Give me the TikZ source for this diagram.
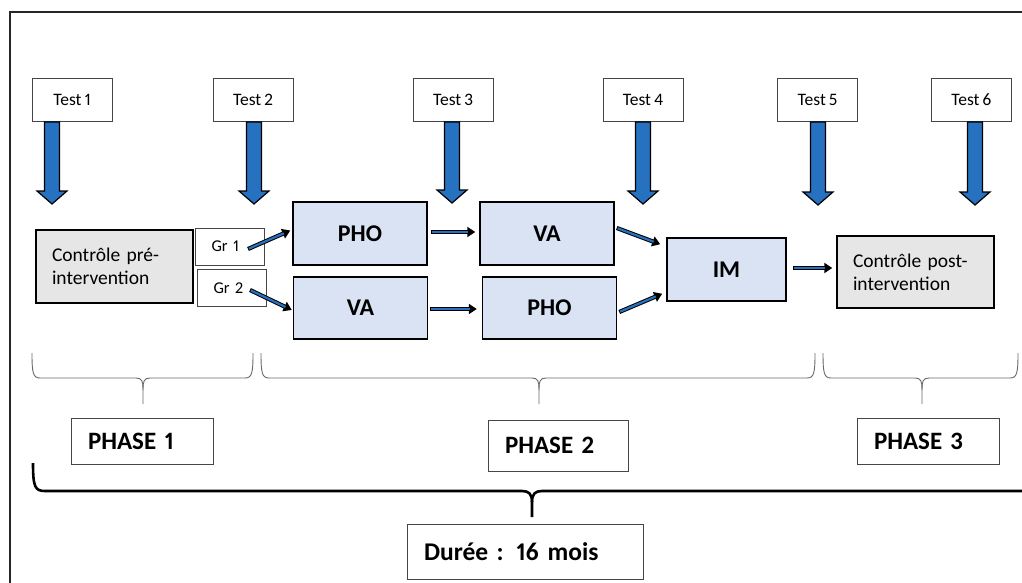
\documentclass[tikz,border=0pt]{standalone}
\usepackage{fontspec}
\setmainfont{Carlito}[Numbers=Proportional,WordSpace=0.75]
\usetikzlibrary{arrows.meta,calc}
\definecolor{arrblue}{RGB}{38,113,192}
\definecolor{boxblue}{RGB}{218,227,243}
\definecolor{boxgray}{RGB}{230,230,230}
\definecolor{lgray}{RGB}{70,70,70}
\definecolor{brgray}{RGB}{105,105,105}
\newcommand\phbrace[3]{%
\draw[phbr] (#1,353) .. controls (#1,373) and (#1+1,378) .. (#1+8,378) -- (#3-7,378) .. controls (#3-1,378) and (#3,381) .. (#3,390) -- (#3,404);
\draw[phbr] (#2,353) .. controls (#2,373) and (#2-1,378) .. (#2-8,378) -- (#3+7,378) .. controls (#3+1,378) and (#3,381) .. (#3,390);}
\newcommand\testarrow[2]{%
\draw[tarrow] ($(#1)+(-7.5,0)$) -- ($(#2)+(-7.5,-13)$) -- ($(#2)+(-15,-13)$) -- (#2) -- ($(#2)+(15,-13)$) -- ($(#2)+(7.5,-13)$) -- ($(#1)+(7.5,0)$) -- cycle;}
\begin{document}
\begin{tikzpicture}[x=1pt,y=-1pt,
 testbox/.style={draw=lgray, line width=1pt, fill=white, minimum width=80pt, minimum height=43pt, inner sep=0pt, font=\fontsize{17.5}{20}\selectfont},
 ctrlbox/.style={draw=black, line width=1.5pt, fill=boxgray, text width=125pt, inner xsep=16pt, align=left, font=\fontsize{19.5}{23}\selectfont},
 grbox/.style={draw=lgray, line width=1pt, fill=white, minimum height=37pt, text width=37pt, inner xsep=16pt, align=left, font=\fontsize{16.5}{19}\selectfont},
 bluebox/.style={draw=black, line width=1.5pt, fill=boxblue, minimum width=134pt, minimum height=63pt, inner sep=0pt, font=\bfseries\fontsize{24}{28}\selectfont},
 phasebox/.style={draw=lgray, line width=1pt, fill=white, minimum height=46pt, inner xsep=17pt, align=left, font=\bfseries\fontsize{25}{28}\selectfont},
 tarrow/.style={draw=black, line width=1.2pt, fill=arrblue, line join=miter},
 conn/.style={draw=black, line width=4.2pt, -{Triangle[length=8pt,width=10pt]}, postaction={draw=arrblue, line width=2.2pt, -, shorten >=7pt, shorten <=1pt}},
 phbr/.style={draw=brgray, line width=0.9pt},
 bigbr/.style={draw=black, line width=2.6pt},
 frame/.style={draw=black!85, line width=1.5pt}]
\useasboundingbox (0,0) rectangle (1022,583);
\fill[white] (0,0) rectangle (1022,583);
\draw[frame] (10,590) -- (10,12) -- (1030,12);

% test boxes
\node[testbox] (t1) at (72,100) {Test 1};
\node[testbox] (t2) at (253,100) {Test 2};
\node[testbox] (t3) at (453,100) {Test 3};
\node[testbox] (t4) at (643,100) {Test 4};
\node[testbox] (t5) at (817.5,100) {Test 5};
\node[testbox] (t6) at (971.5,100) {Test 6};

\coordinate (a1) at ([xshift=-20pt]t1.south);
\coordinate (b1) at ($(a1)+(0,82)$);
\coordinate (a2) at ([xshift=1pt]t2.south);
\coordinate (b2) at ($(a2)+(0,82)$);
\coordinate (a3) at ([xshift=-1pt]t3.south);
\coordinate (b3) at ($(a3)+(0,81)$);
\coordinate (a4) at (t4.south);
\coordinate (b4) at ($(a4)+(0,82)$);
\coordinate (a5) at ([xshift=0.5pt]t5.south);
\coordinate (b5) at ($(a5)+(0,83)$);
\coordinate (a6) at ([xshift=3.5pt]t6.south);
\coordinate (b6) at ($(a6)+(0,83)$);
\testarrow{a1}{b1}
\testarrow{a2}{b2}
\testarrow{a3}{b3}
\testarrow{a4}{b4}
\testarrow{a5}{b5}
\testarrow{a6}{b6}

% main boxes
\node[ctrlbox, minimum height=73pt] (pre) at (114.5,266.5) {Contrôle pré-\\intervention};
\node[grbox] (g1) at (230,246.5) {Gr 1};
\node[grbox] (g2) at (232,288) {Gr 2};
\node[bluebox] (pho1) at (360,233.5) {PHO};
\node[bluebox] (va1) at (547,233.5) {VA};
\node[bluebox, minimum height=62pt] (va2) at (360.5,308) {VA};
\node[bluebox, minimum height=62pt] (pho2) at (549.5,308) {PHO};
\node[bluebox, minimum width=119pt] (im) at (726.5,269.5) {IM};
\node[ctrlbox, minimum height=72pt] (post) at (915.5,272) {Contrôle post-\\intervention};

% connectors
\draw[conn] ([xshift=-17pt,yshift=-2.5pt]g1.east) -- ([xshift=-2pt,yshift=3pt]pho1.west);
\draw[conn] ([xshift=-17pt,yshift=-2pt]g2.east) -- ([xshift=-1pt,yshift=-2pt]va2.west);
\draw[conn] ([xshift=3pt,yshift=1.5pt]pho1.east) -- ([xshift=-4pt,yshift=1.5pt]va1.west);
\draw[conn] ([xshift=2pt,yshift=-1pt]va2.east) -- ([xshift=-5pt,yshift=-1pt]pho2.west);
\draw[conn] ([xshift=2pt,yshift=5.5pt]va1.east) -- ([xshift=-6pt,yshift=-7pt]im.north west);
\draw[conn] ([xshift=2pt,yshift=-4pt]pho2.east) -- ([xshift=-4pt,yshift=8pt]im.south west);
\draw[conn] ([xshift=6pt,yshift=1.5pt]im.east) -- ([xshift=-4pt,yshift=4pt]post.west);

% phase braces
\phbrace{32}{253}{143}
\phbrace{261}{815}{539}
\phbrace{823}{1018}{922}

% phase boxes
\node[phasebox, text width=108pt] (ph1) at (142,441) {PHASE 1};
\node[phasebox, text width=106pt, minimum height=51pt] (ph2) at (558,445.5) {PHASE 2};
\node[phasebox, text width=108pt] (ph3) at (928,441) {PHASE 3};

% big brace
\draw[bigbr] (33,463) .. controls (33,487) and (35,491) .. (45,491) -- (522,491) .. controls (529,491) and (532,494) .. (532,502) -- (532,517);
\draw[bigbr] (1030,491) -- (542,491) .. controls (535,491) and (532,494) .. (532,502);

\node[phasebox, text width=202pt, minimum height=55pt, inner xsep=17pt, font=\bfseries\fontsize{25.5}{30}\selectfont] (dur) at (525,551.5) {Durée : 16 mois};
\end{tikzpicture}
\end{document}
